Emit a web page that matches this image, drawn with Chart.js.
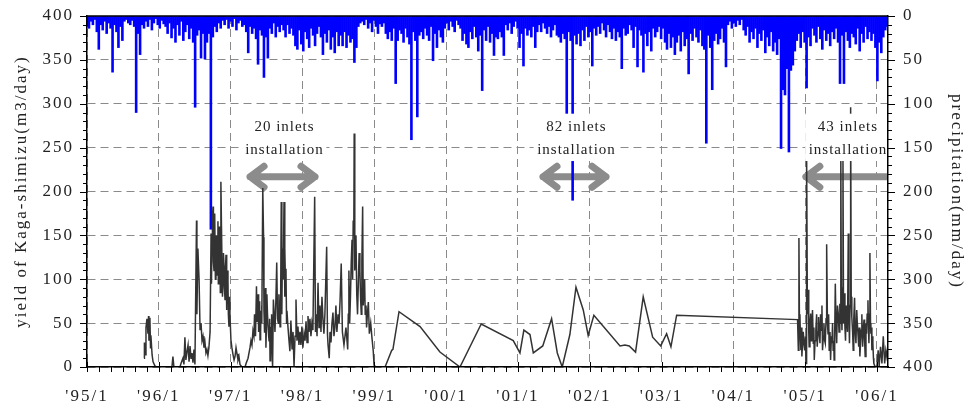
<!DOCTYPE html>
<html>
<head>
<meta charset="utf-8">
<script src="https://cdn.jsdelivr.net/npm/chart.js@4.4.0/dist/chart.umd.min.js"></script>
<style>
  html, body { margin: 0; padding: 0; background: #fff; }
  #wrap { width: 968px; height: 409px; }
</style>
</head>
<body>
<div id="wrap"><canvas id="chart" width="968" height="409"></canvas></div>
<script>
// x values are days counted from 1995/1/1
const yearLabels = ["'95/1", "'96/1", "'97/1", "'98/1", "'99/1", "'00/1", "'01/1", "'02/1", "'03/1", "'04/1", "'05/1", "'06/1"];
const yearTicks = yearLabels.map((l, i) => (Date.UTC(1995 + i, 0, 1) - Date.UTC(1995, 0, 1)) / 864e5);
const lastDay = 4074;
const yieldTicks = [0, 50, 100, 150, 200, 250, 300, 350, 400];
const rainTicks = [0, 50, 100, 150, 200, 250, 300, 350, 400];

// precipitation (mm/day), one bar every 10 days from 1995/1/1
const rainStep = 10;
const precipitation = [
  12, 14, 6, 10, 4, 18, 38, 10, 16, 6,
  20, 8, 14, 64, 10, 18, 36, 12, 28, 6,
  4, 8, 10, 5, 12, 110, 20, 44, 10, 14,
  6, 12, 4, 16, 8, 3, 10, 14, 5, 9,
  12, 20, 8, 25, 14, 30, 10, 22, 6, 28,
  18, 10, 26, 14, 30, 104, 22, 16, 48, 20,
  49, 30, 20, 243, 24, 12, 18, 8, 14, 5,
  10, 4, 14, 6, 12, 3, 16, 8, 5, 12,
  10, 18, 42, 12, 20, 14, 26, 55, 16, 22,
  70, 24, 48, 14, 20, 8, 24, 12, 18, 10,
  16, 24, 10, 20, 14, 22, 34, 38, 16, 32,
  40, 18, 26, 36, 14, 22, 34, 20, 12, 24,
  44, 20, 30, 16, 38, 24, 42, 18, 34, 22,
  34, 18, 36, 22, 30, 26, 53, 36, 12, 8,
  6, 10, 4, 14, 8, 18, 5, 12, 20, 9,
  12, 8, 20, 26, 18, 28, 14, 77, 28, 16,
  20, 30, 14, 24, 32, 141, 18, 28, 115, 22,
  18, 26, 14, 22, 28, 12, 51, 20, 36, 16,
  24, 30, 14, 8, 16, 6, 12, 18, 5, 10,
  14, 28, 20, 32, 36, 18, 26, 12, 24, 40,
  22, 85, 16, 28, 12, 30, 20, 45, 24, 26,
  18, 24, 45, 10, 16, 8, 20, 12, 6, 14,
  36, 20, 57, 14, 22, 16, 24, 12, 36, 18,
  10, 18, 8, 14, 20, 12, 24, 16, 10, 22,
  24, 30, 20, 26, 150, 18, 28, 210, 22, 32,
  20, 34, 16, 28, 12, 24, 18, 57, 14, 22,
  12, 20, 8, 16, 24, 10, 18, 26, 14, 28,
  18, 24, 60, 14, 22, 20, 10, 16, 36, 12,
  58, 16, 22, 64, 20, 34, 18, 40, 14, 24,
  18, 12, 26, 14, 30, 38, 20, 36, 24, 44,
  30, 22, 40, 18, 34, 26, 66, 20, 28, 14,
  24, 30, 16, 34, 38, 145, 22, 36, 84, 28,
  20, 32, 26, 14, 30, 58, 10, 6, 14, 8,
  12, 5, 10, 4, 16, 22, 12, 30, 18, 26,
  14, 36, 20, 28, 16, 42, 24, 34, 18, 40,
  30, 44, 26, 151, 84, 90, 60, 155, 62, 56,
  40, 28, 20, 36, 18, 30, 82, 24, 34, 14,
  22, 30, 12, 26, 38, 16, 28, 20, 34, 18,
  26, 14, 30, 77, 22, 77, 18, 28, 36, 20,
  24, 32, 14, 40, 20, 30, 12, 26, 18, 28,
  20, 36, 74, 30, 42, 24, 16, 12
];

// yield of Kaga-shimizu (m3/day): [day, value]
const yield1995to1998 = [
  [290,10],[292,28],[295,14],[300,45],[305,55],[310,38],[313,58],[315,30],[320,56],[323,22],[325,36],[331,14],[336,6],[346,1],[356,0],
  [432,0],[437,12],[442,0],[473,0],[478,4],[488,10],[493,3],[498,34],[503,8],[509,18],[514,25],[519,6],[524,24],[529,10],[534,16],[539,5],[544,20],[549,3],
  [557,167],[559,60],[564,135],[570,100],[575,42],[580,50],[585,30],[590,35],[595,22],[600,28],[605,16],[610,20],[615,13],[620,22],[626,40],
  [631,152],[633,95],[636,140],[638,170],[641,183],[643,120],[646,110],[648,160],[651,175],[653,100],[656,130],[658,150],[661,104],[663,140],[666,166],[668,95],[671,120],[673,160],[676,150],[678,85],
  [681,211],[684,160],[687,112],[689,80],[692,98],[694,130],[697,115],[699,90],[702,77],[704,110],[707,128],[709,65],[712,70],[714,110],[717,98],[719,60],[722,46],[724,80],[727,60],
  [732,31],[737,22],[742,15],[748,8],[753,12],[758,22],[763,15],[768,8],[773,12],[778,3],[788,0],
  [804,0],[809,4],[819,10],[829,22],[834,30],[839,25],[844,41],[849,35],[852,60],[854,48],[857,35],[862,92],[865,52],[867,70],[870,83],[873,40],[875,45],[878,75],[880,31],[883,40],[885,64],[888,70],[890,50],
  [894,204],[898,148],[900,64],[903,40],[905,60],[908,90],[910,22],[913,50],[915,83],[918,60],[921,47],[924,35],[926,30],[929,55],[931,7],[934,20],[936,45],[939,60],[941,20],[944,0],
  [948,77],[952,60],[956,40],[960,70],[965,119],[969,55],[973,50],[976,83],[979,65],[982,46],[985,80],[988,188],[991,60],[994,135],[998,100],[1002,188],[1005,80],[1007,135],[1010,90],[1012,112],[1015,50],[1017,64],
  [1022,46],[1027,31],[1032,18],[1037,53],[1043,20],[1048,40],[1053,0],[1058,35],[1063,77],[1068,30],[1073,46],[1078,25],[1083,40],[1088,25],[1093,46],[1098,22],
  [1104,38],[1109,30],[1114,52],[1119,28],[1124,58],[1129,40],[1134,55],[1139,35],[1144,50],[1149,42],[1158,194],[1162,40],[1165,60],[1170,35],[1175,96],[1180,45],[1185,70],[1190,40],[1195,80],[1200,55],[1205,38],[1210,60],
  [1219,137],[1223,38],[1226,25],[1232,10],[1236,40],[1241,28],[1246,50],[1251,62],[1256,35],[1261,45],[1266,70],[1271,40],[1277,60],[1282,50],[1287,75],[1293,118],[1299,40],[1307,25],[1312,35],[1317,45],
  [1326,20],[1329,60],[1332,110],[1336,50],[1340,80],[1344,120],[1348,145],[1351,100],[1354,167],[1357,150],[1359,266],[1362,110],[1365,130],[1368,150],[1372,83],[1376,60],[1380,95],[1384,130],[1388,110],[1392,75],[1395,60],[1398,120],
  [1402,183],[1405,70],[1409,90],[1412,100],[1415,60],[1419,70],[1422,45],[1426,60],[1431,74],[1436,38],[1443,50],[1449,34],[1456,18],[1460,2],[1470,0]
];
const yield1999to2004 = [
  [1516,0],[1550,19],[1556,20],[1587,63],[1694,46],[1795,17],[1897,0],[2005,49],[2168,30],[2202,16],[2222,42],[2253,37],[2270,16],[2318,24],[2363,55],[2392,16],[2417,0],[2456,37],[2487,91],[2524,65],[2549,36],[2578,59],[2711,24],[2736,25],[2758,24],[2790,17],[2829,80],[2877,34],[2918,24],[2948,38],[2970,23],[2999,59],[3614,54]
];
const yield2005to2006 = [
  [3618,19],[3621,147],[3624,35],[3626,60],[3629,30],[3631,19],[3634,45],[3636,12],[3640,30],[3643,40],[3647,25],[3650,19],[3654,35],[3657,4],[3660,250],[3664,60],[3668,88],[3671,40],[3673,23],[3677,50],
  [3681,61],[3684,30],[3687,42],[3690,65],[3694,27],[3697,45],[3699,8],[3703,30],[3707,42],[3711,60],[3714,23],[3718,40],[3721,57],[3725,35],[3728,27],[3731,60],[3734,42],[3738,70],[3741,19],[3745,35],
  [3748,50],[3752,30],[3755,27],[3759,55],[3762,140],[3766,50],[3769,38],[3772,60],[3775,19],[3779,40],[3782,8],[3786,35],[3789,27],[3792,50],[3795,19],[3798,30],[3800,8],[3803,40],[3806,95],[3810,45],
  [3813,27],[3817,70],[3821,61],[3825,40],[3829,72],[3832,50],[3834,245],[3837,60],[3840,42],[3842,90],[3845,235],[3848,50],[3851,84],[3855,45],[3858,30],[3861,70],[3863,60],[3868,40],[3872,152],[3875,60],
  [3878,27],[3881,70],[3884,296],[3887,80],[3890,57],[3894,40],[3897,19],[3900,55],[3904,79],[3907,40],[3911,27],[3915,65],[3918,50],[3922,35],[3925,23],[3928,45],[3931,12],[3935,30],[3938,42],[3941,60],
  [3945,23],[3948,40],[3952,54],[3955,30],[3958,12],[3962,50],[3965,38],[3968,60],[3972,76],[3975,40],[3977,27],[3980,60],[3982,130],[3985,50],[3987,38],[3990,45],[3992,19],[3995,35],[3997,27],[4000,10],
  [4002,4],[4009,0],[4018,1],[4024,19],[4029,1],[4036,23],[4043,4],[4050,35],[4057,4],[4063,19],[4068,12],[4074,23]
];

// inlet installation notes (days / yield units)
const notes = [
  { text: ['20 inlets', 'installation'], textAt: 1002, from: 814, to: 1175, heads: [true, true] },
  { text: ['82 inlets', 'installation'], textAt: 2487, from: 2304, to: 2655, heads: [true, true] },
  { text: ['43 inlets', 'installation'], textAt: 3868, from: 3641, to: lastDay, heads: [true, false] }
];
const noteLine1 = 269.3, noteLine2 = 242.7, arrowLevel = 216.8;

const SERIF = '"Liberation Serif", "Times New Roman", serif';
const INK = '#222';

const rainPoints = precipitation.map((v, i) => ({ x: i * rainStep, y: v }));
const yieldPoints = [...yield1995to1998, ...yield1999to2004, ...yield2005to2006].map(p => ({ x: p[0], y: p[1] }));

const decor = {
  id: 'decor',
  beforeDraw(chart) {
    chart.ctx.letterSpacing = '2px';
  },
  beforeDatasetsDraw(chart) {
    const { ctx, chartArea: a, scales: { x, y } } = chart;
    ctx.save();
    ctx.beginPath();
    ctx.rect(a.left, a.top, a.right - a.left, a.bottom - a.top);
    ctx.clip();
    ctx.strokeStyle = '#8c8c8c';
    ctx.lineWidth = 7;
    ctx.lineCap = 'round';
    ctx.lineJoin = 'round';
    const yy = y.getPixelForValue(arrowLevel);
    notes.forEach(n => {
      const x1 = x.getPixelForValue(n.from), x2 = x.getPixelForValue(n.to);
      ctx.beginPath();
      ctx.moveTo(x1 + 3, yy);
      ctx.lineTo(n.heads[1] ? x2 - 3 : x2 + 5, yy);
      if (n.heads[0]) {
        ctx.moveTo(x1 + 17, yy - 10.5); ctx.lineTo(x1 + 3, yy); ctx.lineTo(x1 + 17, yy + 10.5);
      }
      if (n.heads[1]) {
        ctx.moveTo(x2 - 17, yy - 10.5); ctx.lineTo(x2 - 3, yy); ctx.lineTo(x2 - 17, yy + 10.5);
      }
      ctx.stroke();
    });
    ctx.restore();
  },
  afterDatasetsDraw(chart) {
    const { ctx, scales: { x, y } } = chart;
    ctx.save();
    ctx.font = '15px ' + SERIF;
    ctx.letterSpacing = '1px';
    ctx.textAlign = 'center';
    ctx.textBaseline = 'alphabetic';
    const b1 = y.getPixelForValue(noteLine1), b2 = y.getPixelForValue(noteLine2);
    notes.forEach(n => {
      const cx = x.getPixelForValue(n.textAt);
      const w = Math.max(...n.text.map(t => ctx.measureText(t).width));
      ctx.fillStyle = '#fff';
      ctx.fillRect(cx - w / 2 - 3, b1 - 17, w + 6, b2 - b1 + 24);
      ctx.fillStyle = INK;
      ctx.fillText(n.text[0], cx + 0.5, b1);
      ctx.fillText(n.text[1], cx + 0.5, b2);
    });
    ctx.restore();
  },
  afterDraw(chart) {
    const { ctx, chartArea: a, scales: { x, y, y2 } } = chart;
    ctx.save();
    ctx.strokeStyle = '#000';
    ctx.lineWidth = 1;
    ctx.beginPath();
    for (let v = 0; v <= 400; v += 10) {
      const len = v % 50 ? 4 : 7;
      const p1 = Math.round(y.getPixelForValue(v)) + 0.5;
      ctx.moveTo(a.left - len, p1); ctx.lineTo(a.left, p1);
      const p2 = Math.round(y2.getPixelForValue(v)) + 0.5;
      ctx.moveTo(a.right, p2); ctx.lineTo(a.right + len, p2);
    }
    yearTicks.forEach(d => {
      const px = Math.round(x.getPixelForValue(d)) + 0.5;
      ctx.moveTo(px, a.bottom - 5); ctx.lineTo(px, a.bottom + 5);
    });
    for (let yr = 1995; yr <= 2006; yr++) {
      for (let m = 2; m < 12; m += 2) {
        const d = (Date.UTC(yr, m, 1) - Date.UTC(1995, 0, 1)) / 864e5;
        if (d > lastDay) continue;
        const px = Math.round(x.getPixelForValue(d)) + 0.5;
        ctx.moveTo(px, a.bottom); ctx.lineTo(px, a.bottom + 5);
      }
    }
    ctx.stroke();
    ctx.lineWidth = 1.5;
    ctx.beginPath();
    ctx.moveTo(a.left, a.top); ctx.lineTo(a.right, a.top);
    ctx.stroke();
    ctx.restore();
  }
};

const tickFont = { family: SERIF, size: 17 };
const fitSide = w => s => { s.width = w; s.paddingTop = 0; s.paddingBottom = 0; };

new Chart(document.getElementById('chart'), {
  type: 'line',
  data: {
    datasets: [
      {
        type: 'line',
        data: yieldPoints,
        yAxisID: 'y',
        borderColor: '#333333',
        borderWidth: 1.5,
        pointRadius: 0,
        tension: 0,
        order: 0
      },
      {
        type: 'bar',
        data: rainPoints,
        yAxisID: 'y2',
        backgroundColor: '#0000ff',
        borderWidth: 0,
        barPercentage: 1,
        categoryPercentage: 1,
        order: 1
      }
    ]
  },
  options: {
    responsive: false,
    animation: false,
    devicePixelRatio: 1,
    layout: { padding: { top: 16, left: 0, right: 0, bottom: 0 } },
    plugins: { legend: { display: false }, tooltip: { enabled: false } },
    scales: {
      x: {
        type: 'linear',
        min: 0,
        max: lastDay,
        offset: false,
        afterBuildTicks: s => { s.ticks = yearTicks.map(v => ({ value: v })); },
        afterFit: s => { s.height = 42; s.paddingLeft = 0; s.paddingRight = 0; },
        ticks: {
          autoSkip: false,
          maxRotation: 0,
          padding: 19,
          font: tickFont,
          color: INK,
          callback: (v, i) => yearLabels[i]
        },
        grid: { color: '#8a8a8a', lineWidth: 1, drawTicks: false, offset: false },
        border: { display: true, color: '#000', width: 1.5, dash: [8, 5], z: 1 }
      },
      y: {
        position: 'left',
        min: 0,
        max: 400,
        afterBuildTicks: s => { s.ticks = yieldTicks.map(v => ({ value: v })); },
        afterFit: fitSide(87),
        ticks: { padding: 13, font: tickFont, color: INK },
        grid: { color: '#8a8a8a', lineWidth: 1, drawTicks: false },
        border: { display: true, color: '#000', width: 1.5, dash: [8, 5], z: 1 },
        title: {
          display: true,
          text: 'yield of Kaga-shimizu(m3/day)',
          font: { family: SERIF, size: 17 },
          color: INK,
          padding: { top: 11, bottom: 0 }
        }
      },
      y2: {
        position: 'right',
        reverse: true,
        min: 0,
        max: 400,
        afterBuildTicks: s => { s.ticks = rainTicks.map(v => ({ value: v })); },
        afterFit: fitSide(80),
        ticks: { padding: 15, font: tickFont, color: INK },
        grid: { drawOnChartArea: false, drawTicks: false },
        border: { display: true, color: '#000', width: 1.5, z: 1 },
        title: {
          display: true,
          text: 'precipitation(mm/day)',
          font: { family: SERIF, size: 17 },
          color: INK,
          padding: { top: 1, bottom: 0 }
        }
      }
    }
  },
  plugins: [decor]
});
</script>
</body>
</html>
